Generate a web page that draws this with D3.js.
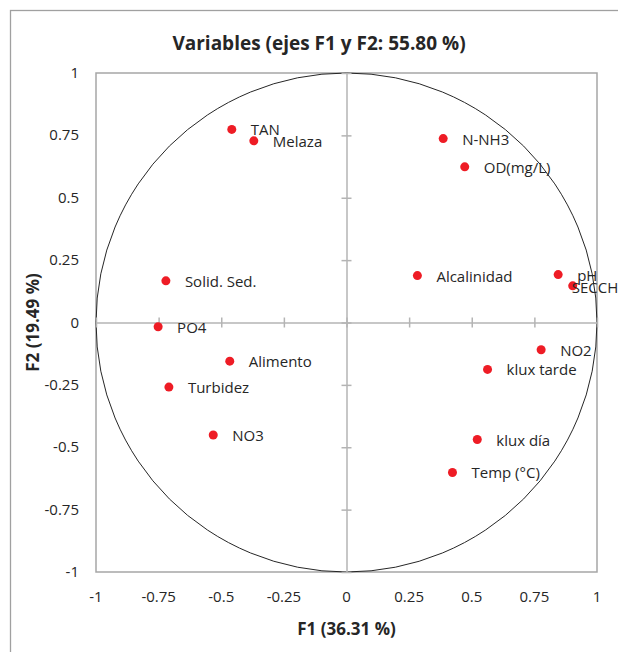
<!DOCTYPE html>
<html>
<head>
<meta charset="utf-8">
<script src="https://cdn.jsdelivr.net/npm/d3@7"></script>
<style>
  body { margin: 0; background: #fff; }
  text { font-family: "Open Sans", "Noto Sans", sans-serif; fill: #262626; }
</style>
</head>
<body>
<div class="chart"></div>
<script>
// variable names and their loadings on F1 / F2
var names = ['TAN', 'Melaza', 'N-NH3', 'OD(mg/L)', 'Solid. Sed.', 'Alcalinidad', 'pH', 'SECCHI',
  'PO4', 'NO2', 'Alimento', 'klux tarde', 'Turbidez', 'NO3', 'klux día', 'Temp (°C)'];
var f1 = [-0.458, -0.370, 0.386, 0.472, -0.721, 0.283, 0.845, 0.903,
  -0.752, 0.777, -0.466, 0.563, -0.709, -0.532, 0.522, 0.423];
var f2 = [0.774, 0.728, 0.737, 0.624, 0.167, 0.188, 0.192, 0.147,
  -0.017, -0.109, -0.155, -0.188, -0.259, -0.451, -0.469, -0.601];
var tickVals = [-1, -0.75, -0.5, -0.25, 0, 0.25, 0.5, 0.75, 1];

var fullWidth = 618, fullHeight = 652;
var plot = { left: 96, right: 597, top: 73, bottom: 572 };

var svg = d3.select('.chart')
  .append('svg')
  .attr('width', fullWidth)
  .attr('height', fullHeight);

// outer chart frame (runs off the right and bottom edges)
svg.append('rect')
  .attr('x', 10.5).attr('y', 10.5)
  .attr('width', 700).attr('height', 700)
  .style('fill', 'none')
  .style('stroke', '#a0a0a0')
  .style('stroke-width', 1.3);

var xScale = d3.scaleLinear().domain([-1, 1]).range([plot.left, plot.right]);
var yScale = d3.scaleLinear().domain([-1, 1]).range([plot.bottom, plot.top]);

// plot border
svg.append('rect')
  .attr('x', plot.left).attr('y', plot.top)
  .attr('width', plot.right - plot.left)
  .attr('height', plot.bottom - plot.top)
  .style('fill', 'none')
  .style('stroke', '#a6a6a6')
  .style('stroke-width', 1.5);

// correlation circle
svg.append('ellipse')
  .attr('cx', xScale(0)).attr('cy', yScale(0))
  .attr('rx', xScale(1) - xScale(0))
  .attr('ry', yScale(0) - yScale(1))
  .style('fill', 'none')
  .style('stroke', '#262626')
  .style('stroke-width', 1);

// axes through the origin, ticks cross the line
var xAxis = svg.append('g')
  .attr('transform', `translate(0, ${yScale(0)})`)
  .call(d3.axisBottom(xScale).tickValues(tickVals).tickSizeInner(0).tickSizeOuter(0).tickFormat(''));
xAxis.select('.domain').style('stroke', '#b4b4b4').style('stroke-width', 1.5);
xAxis.selectAll('.tick line').attr('y1', -5).attr('y2', 5)
  .style('stroke', '#b4b4b4').style('stroke-width', 1.5);

var yAxis = svg.append('g')
  .attr('transform', `translate(${xScale(0)}, 0)`)
  .call(d3.axisLeft(yScale).tickValues(tickVals).tickSizeInner(0).tickSizeOuter(0).tickFormat(''));
yAxis.select('.domain').style('stroke', '#b4b4b4').style('stroke-width', 1.5);
yAxis.selectAll('.tick line').attr('x1', -5).attr('x2', 5)
  .style('stroke', '#b4b4b4').style('stroke-width', 1.5);

// tick labels outside the plot
svg.selectAll('.xlab')
  .data(tickVals)
  .enter()
  .append('text')
  .attr('class', 'xlab')
  .attr('x', d => xScale(d))
  .attr('y', 602)
  .style('text-anchor', 'middle')
  .style('font-size', '15px')
  .text(d => d);

svg.selectAll('.ylab')
  .data(tickVals)
  .enter()
  .append('text')
  .attr('class', 'ylab')
  .attr('x', 79)
  .attr('y', d => yScale(d) + 5)
  .style('text-anchor', 'end')
  .style('font-size', '15px')
  .text(d => d);

// points and labels
var pts = names.map((n, i) => ({ name: n, x: f1[i], y: f2[i] }));

var g = svg.selectAll('.pt')
  .data(pts)
  .enter()
  .append('g')
  .attr('class', 'pt')
  .attr('transform', d => `translate(${xScale(d.x)}, ${yScale(d.y)})`);

g.append('circle')
  .attr('r', 4.5)
  .style('fill', '#ee1c25');

// excel pushed the SECCHI label onto its own dot
g.append('text')
  .attr('x', d => d.name == 'SECCHI' ? -1 : 19)
  .attr('y', d => d.name == 'SECCHI' ? 7 : 6)
  .style('font-size', '15px')
  .text(d => d.name);

// titles
svg.append('text')
  .attr('x', 319).attr('y', 50)
  .style('text-anchor', 'middle')
  .style('font-size', '19px')
  .style('font-weight', 'bold')
  .text('Variables (ejes F1 y F2: 55.80 %)');

svg.append('text')
  .attr('x', xScale(0)).attr('y', 635)
  .style('text-anchor', 'middle')
  .style('font-size', '17px')
  .style('font-weight', 'bold')
  .text('F1 (36.31 %)');

svg.append('text')
  .attr('transform', `translate(39, ${yScale(0)}) rotate(-90)`)
  .style('text-anchor', 'middle')
  .style('font-size', '17px')
  .style('font-weight', 'bold')
  .text('F2 (19.49 %)');
</script>
</body>
</html>
